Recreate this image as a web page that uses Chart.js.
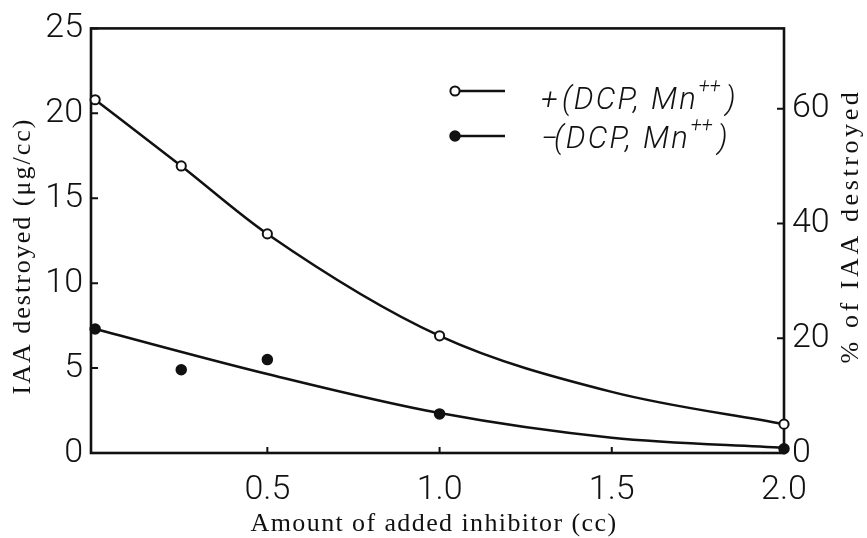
<!DOCTYPE html>
<html>
<head>
<meta charset="utf-8">
<script src="https://cdn.jsdelivr.net/npm/chart.js@4/dist/chart.umd.min.js"></script>
<style>
  html, body { margin: 0; padding: 0; background: #fff; }
  #wrap { width: 867px; height: 538px; }
</style>
</head>
<body>
<div id="wrap"><canvas id="c" width="867" height="538"></canvas></div>
<script>
// Amount of inhibitor added (cc) and IAA destroyed (µg/cc)
const doses = [0, 0.25, 0.5, 1.0, 2.0];
const withDcpMn = [20.8, 16.9, 12.9, 6.9, 1.7];
const withoutDcpMn = [7.3, 4.9, 5.5, 2.3, 0.25];

// Hand-drawn trend curves through the measurements
const withCurveX = [0, 0.25, 0.5, 1.0, 1.5, 2.0];
const withCurveY = [20.8, 16.9, 12.9, 6.9, 3.6, 1.7];
const withoutCurveX = [0, 0.5, 1.0, 1.5, 2.0];
const withoutCurveY = [7.3, 4.65, 2.35, 0.9, 0.3];

// Tick labels
const xTicks = [0.5, 1.0, 1.5, 2.0];
const yTicks = [0, 5, 10, 15, 20, 25];
const pctTicks = [0, 20, 40, 60];

// Legend text: sign, body, superscript, closing
const legendSigns = ['+', '\u2212'];
const legendBody = '(DCP, Mn';
const legendSup = '++';
const legendClose = ')';

const xTitle = 'Amount of added inhibitor (cc)';
const yTitle = 'IAA destroyed (\u03BCg/cc)';
const y2Title = '% of IAA destroyed';

const INK = '#111';
const pts = (xs, ys) => xs.map((x, i) => ({ x: x, y: ys[i] }));
const tickFont = { family: 'Roboto, "Liberation Sans", sans-serif', size: 34, weight: '300' };
const SERIF = '"Liberation Serif", "DejaVu Serif", serif';
const ITALIC = 'Roboto, "DejaVu Sans", sans-serif';

const framePlugin = {
  id: 'frame',
  beforeDatasetsDraw(chart) {
    const { ctx, chartArea: a, scales } = chart;
    ctx.save();
    ctx.strokeStyle = INK;
    ctx.lineWidth = 2.6;
    ctx.strokeRect(a.left, a.top, a.right - a.left, a.bottom - a.top);
    ctx.lineWidth = 2;
    ctx.beginPath();
    scales.y.ticks.forEach(t => {
      const py = scales.y.getPixelForValue(t.value);
      ctx.moveTo(a.left, py); ctx.lineTo(a.left + 7, py);
    });
    scales.y2.ticks.forEach(t => {
      const py = scales.y2.getPixelForValue(t.value);
      ctx.moveTo(a.right - 7, py); ctx.lineTo(a.right, py);
    });
    scales.x.ticks.forEach(t => {
      const px = scales.x.getPixelForValue(t.value);
      ctx.moveTo(px, a.bottom); ctx.lineTo(px, a.bottom - 6);
    });
    ctx.stroke();
    ctx.restore();
  },
  afterDraw(chart) {
    const { ctx } = chart;
    ctx.save();
    ctx.fillStyle = INK;
    ctx.font = '26px ' + SERIF;
    ctx.textAlign = 'center';

    // Bottom axis title
    ctx.letterSpacing = '1.4px';
    ctx.textBaseline = 'alphabetic';
    ctx.fillText(xTitle, 434, 531);

    // Left axis title
    ctx.letterSpacing = '2px';
    ctx.textBaseline = 'middle';
    ctx.save();
    ctx.translate(23, 256);
    ctx.rotate(-Math.PI / 2);
    ctx.fillText(yTitle, 0, 0);
    ctx.restore();

    // Right axis title
    ctx.letterSpacing = '3.6px';
    ctx.save();
    ctx.translate(851, 226);
    ctx.rotate(-Math.PI / 2);
    ctx.fillText(y2Title, 0, 0);
    ctx.restore();
    ctx.letterSpacing = '0px';

    // Legend
    const ds = chart.data.datasets;
    const rows = [ds[0], ds[1]];
    rows.forEach((d, i) => {
      const my = 91 + i * 45;
      const base = 109 + i * 39;
      ctx.strokeStyle = INK;
      ctx.lineWidth = 2.4;
      ctx.beginPath();
      ctx.moveTo(455, my); ctx.lineTo(505, my);
      ctx.stroke();
      ctx.beginPath();
      ctx.arc(455, my, d.pointRadius, 0, Math.PI * 2);
      ctx.fillStyle = d.pointBackgroundColor;
      ctx.fill();
      ctx.lineWidth = d.pointBorderWidth;
      ctx.stroke();

      ctx.fillStyle = INK;
      ctx.textAlign = 'left';
      ctx.textBaseline = 'alphabetic';
      ctx.font = 'italic 300 30px ' + ITALIC;
      ctx.fillText(legendSigns[i], 541, base);
      const bx = i === 0 ? 562 : 554;
      ctx.font = 'italic 300 31px ' + ITALIC;
      ctx.letterSpacing = '2.2px';
      ctx.fillText(legendBody, bx, base);
      const w = ctx.measureText(legendBody).width;
      ctx.letterSpacing = '0px';
      ctx.font = 'italic 300 20px ' + ITALIC;
      ctx.fillText(legendSup, bx + w + 1, base - 17);
      const sw = ctx.measureText(legendSup).width;
      ctx.font = 'italic 300 31px ' + ITALIC;
      ctx.fillText(legendClose, bx + w + sw + 6, base);
    });
    ctx.restore();
  }
};

new Chart(document.getElementById('c'), {
  type: 'line',
  data: {
    datasets: [
      {
        label: '+(DCP, Mn++)',
        data: pts(doses, withDcpMn),
        showLine: false,
        pointRadius: 4.6,
        pointBorderWidth: 2,
        pointBorderColor: INK,
        pointBackgroundColor: '#fff',
        clip: false,
        order: 0
      },
      {
        label: '-(DCP, Mn++)',
        data: pts(doses, withoutDcpMn),
        showLine: false,
        pointRadius: 5,
        pointBorderWidth: 1.5,
        pointBorderColor: INK,
        pointBackgroundColor: INK,
        clip: false,
        order: 0
      },
      {
        data: pts(withCurveX, withCurveY),
        borderColor: INK,
        borderWidth: 2.5,
        pointRadius: 0,
        cubicInterpolationMode: 'monotone',
        clip: false,
        order: 1
      },
      {
        data: pts(withoutCurveX, withoutCurveY),
        borderColor: INK,
        borderWidth: 2.5,
        pointRadius: 0,
        cubicInterpolationMode: 'monotone',
        clip: false,
        order: 1
      }
    ]
  },
  options: {
    responsive: false,
    animation: false,
    devicePixelRatio: 1,
    layout: { padding: { top: 16, left: 0, right: 0, bottom: 0 } },
    plugins: { legend: { display: false }, tooltip: { enabled: false } },
    scales: {
      x: {
        type: 'linear',
        min: -0.012,
        max: 2.0,
        grid: { display: false, drawTicks: false },
        border: { display: false },
        afterBuildTicks: s => { s.ticks = xTicks.map(v => ({ value: v })); },
        afterFit: s => { s.height = 85; },
        ticks: {
          color: INK,
          font: tickFont,
          padding: 17,
          maxRotation: 0,
          autoSkip: false,
          callback: v => Number(v).toFixed(1)
        }
      },
      y: {
        position: 'left',
        min: 0,
        max: 25,
        grid: { display: false, drawTicks: false },
        border: { display: false },
        afterBuildTicks: s => { s.ticks = yTicks.map(v => ({ value: v })); },
        afterFit: s => { s.width = 91; },
        ticks: { color: INK, font: tickFont, padding: 8, autoSkip: false }
      },
      y2: {
        position: 'right',
        min: 0,
        max: 74,
        grid: { display: false, drawTicks: false },
        border: { display: false },
        afterBuildTicks: s => { s.ticks = pctTicks.map(v => ({ value: v })); },
        afterFit: s => { s.width = 83; },
        ticks: { color: INK, font: tickFont, padding: 8, autoSkip: false }
      }
    }
  },
  plugins: [framePlugin]
});
</script>
</body>
</html>
